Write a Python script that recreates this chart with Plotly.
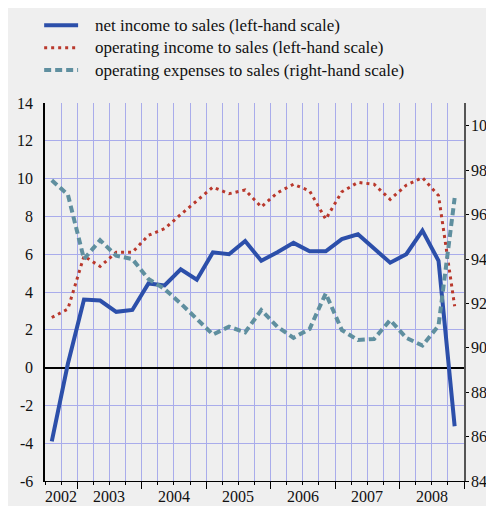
import plotly.graph_objects as go

# quarterly data, 2002Q3 .. 2008Q4
quarters = list(range(26))
net_income = [-3.9, 0.2, 3.6, 3.55, 2.95, 3.05, 4.45, 4.35, 5.2, 4.65,
              6.1, 6.0, 6.7, 5.65, 6.1, 6.6, 6.15, 6.15, 6.8, 7.05,
              6.3, 5.55, 6.0, 7.25, 5.65, -3.1]
operating_income = [2.65, 3.1, 5.9, 5.35, 6.1, 6.1, 7.0, 7.35, 8.1, 8.85,
                    9.55, 9.2, 9.4, 8.5, 9.25, 9.7, 9.35, 7.85, 9.3, 9.8,
                    9.7, 8.9, 9.65, 10.05, 9.1, 3.25]
operating_expenses = [97.55, 96.9, 94.0, 94.85, 94.15, 94.0, 93.1, 92.65, 92.0, 91.3,
                      90.6, 90.95, 90.7, 91.7, 90.95, 90.45, 90.85, 92.45, 90.8, 90.35,
                      90.4, 91.25, 90.45, 90.1, 91.0, 96.75]

year_labels = ['2002', '2003', '2004', '2005', '2006', '2007', '2008']
year_label_pos = [1, 4, 8, 12, 16, 20, 24]
year_bounds = [2, 6, 10, 14, 18, 22, 26]

left_ticks = list(range(-6, 15, 2))
right_ticks = list(range(84, 101, 2))

series_names = ['net income to sales (left-hand scale)',
                'operating income to sales (left-hand scale)',
                'operating expenses to sales (right-hand scale)']
series_styles = [dict(color='#2c4faa', width=4),
                 dict(color='#b9382c', width=3, dash='3px,4px'),
                 dict(color='#5f8f9f', width=4, dash='7px,4px')]

FONT = 'Liberation Serif'
TXT = '#111111'
GRID = '#a9aceb'
BG = '#efefef'

x = [q + 0.42 for q in quarters]

fig = go.Figure()

fig.add_trace(go.Scatter(x=x, y=net_income, mode='lines',
                         name=series_names[0], line=series_styles[0]))
fig.add_trace(go.Scatter(x=x, y=operating_income, mode='lines',
                         name=series_names[1], line=series_styles[1]))
fig.add_trace(go.Scatter(x=x, y=operating_expenses, mode='lines', yaxis='y2',
                         name=series_names[2], line=series_styles[2]))
# invisible trace so the year-boundary tick axis gets drawn
fig.add_trace(go.Scatter(x=[0, 26], y=[0, 0], xaxis='x3', mode='lines',
                         line=dict(width=0), showlegend=False, hoverinfo='skip'))

# legend drawn by hand (key line + label)
legend_rows = [1.206, 1.146, 1.087]
for name, style, ly in zip(series_names, series_styles, legend_rows):
    fig.add_shape(type='line', xref='paper', yref='paper',
                  x0=-0.002, x1=0.079, y0=ly, y1=ly, line=style)
    fig.add_annotation(xref='paper', yref='paper', x=0.1146, y=ly,
                       text=name, showarrow=False, xanchor='left', yanchor='middle',
                       font=dict(family=FONT, size=17, color=TXT))

# tick labels
for v in left_ticks:
    fig.add_annotation(xref='paper', yref='y', x=-0.024, y=v, text=str(v),
                       showarrow=False, xanchor='right', yanchor='middle',
                       font=dict(family=FONT, size=16, color=TXT))
for v in right_ticks:
    fig.add_annotation(xref='paper', yref='y2', x=1.012, y=v, text=str(v),
                       showarrow=False, xanchor='left', yanchor='middle',
                       font=dict(family=FONT, size=16, color=TXT))
for pos, lab in zip(year_label_pos, year_labels):
    fig.add_annotation(xref='x', yref='paper', x=pos, y=-0.04, text=lab,
                       showarrow=False, xanchor='center', yanchor='middle',
                       font=dict(family=FONT, size=16, color=TXT))

fig.update_layout(
    width=494, height=506,
    margin=dict(l=37, r=38, t=95, b=33, autoexpand=False),
    paper_bgcolor=BG, plot_bgcolor=BG,
    font=dict(family=FONT, size=16, color=TXT),
    showlegend=False,
    xaxis=dict(
        range=[0, 26], tickvals=list(range(27)), showticklabels=False,
        showgrid=True, gridcolor=GRID, gridwidth=1,
        ticks='outside', ticklen=3, tickcolor='#000000', tickwidth=1,
        showline=True, linecolor='#000000', linewidth=1,
        zeroline=False
    ),
    xaxis3=dict(
        overlaying='x', anchor='y', side='bottom', range=[0, 26],
        tickvals=year_bounds, showticklabels=False,
        ticks='outside', ticklen=7, tickcolor='#000000', tickwidth=1,
        showgrid=False, showline=False, zeroline=False
    ),
    yaxis=dict(
        range=[-6, 14], tickvals=left_ticks, showticklabels=False,
        showgrid=True, gridcolor=GRID, gridwidth=1,
        zeroline=True, zerolinecolor='#000000', zerolinewidth=2,
        showline=True, linecolor='#000000', linewidth=1.5,
        ticks=''
    ),
    yaxis2=dict(
        overlaying='y', side='right', range=[84, 101.03], tickvals=right_ticks,
        showticklabels=False, showgrid=False, zeroline=False,
        showline=True, linecolor='#555555', linewidth=1.5,
        ticks='outside', ticklen=3, tickcolor='#000000'
    ),
)

fig.write_html("out.html")
